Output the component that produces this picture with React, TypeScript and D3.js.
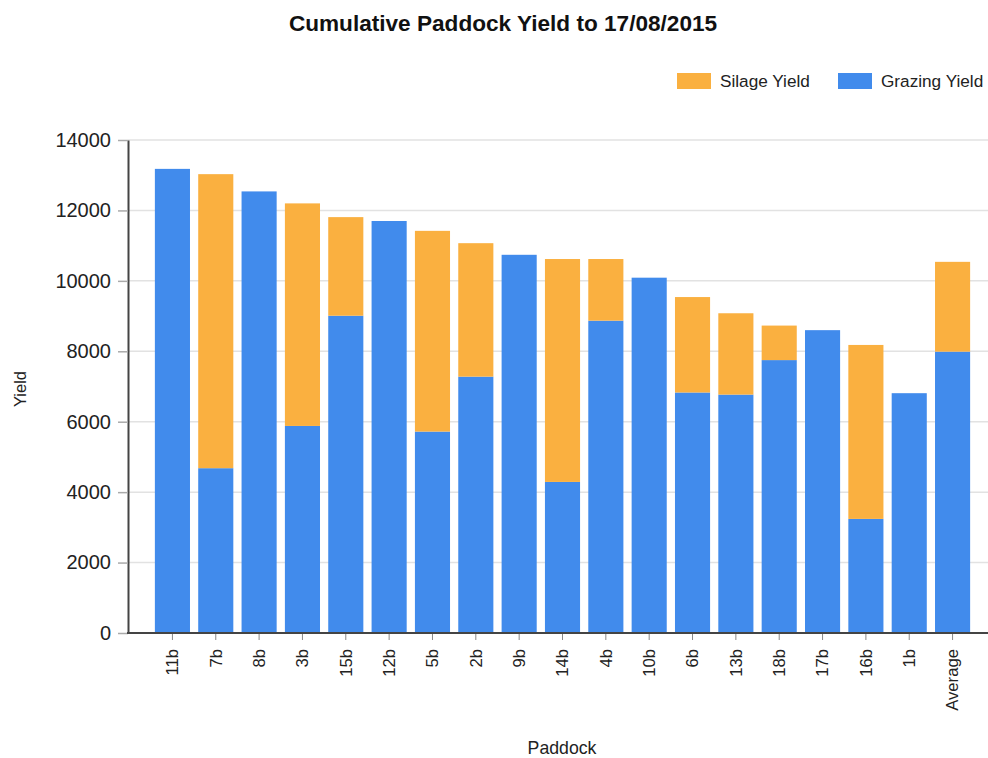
import React, { useRef, useEffect } from 'react';
import * as d3 from 'd3';

// paddocks in chart order
const paddocks = ['11b', '7b', '8b', '3b', '15b', '12b', '5b', '2b', '9b', '14b', '4b', '10b', '6b', '13b', '18b', '17b', '16b', '1b', 'Average'];
const grazingYield = [13180, 4680, 12540, 5880, 9010, 11700, 5720, 7280, 10740, 4290, 8870, 10090, 6830, 6770, 7750, 8600, 3240, 6810, 7990];
const silageYield = [0, 8350, 0, 6320, 2800, 0, 5700, 3790, 0, 6330, 1750, 0, 2710, 2310, 980, 0, 4940, 0, 2550];
const yTicks = [0, 2000, 4000, 6000, 8000, 10000, 12000, 14000];
const seriesNames = ['Silage Yield', 'Grazing Yield'];

const BLUE = '#418bec';
const ORANGE = '#fab040';
const FONT = '"Liberation Sans", Arial, sans-serif';

function App() {
  const canvas = useRef<HTMLDivElement>(null);

  useEffect(() => {
    const width = 988;
    const height = 758;
    const left = 128, right = 988, top = 140, bottom = 633;

    d3.select(canvas.current).select('svg').remove();

    const svg = d3.select(canvas.current)
      .append('svg')
      .attr('width', width)
      .attr('height', height)
      .style('position', 'absolute')
      .style('left', '0px')
      .style('top', '0px')
      .style('font-family', FONT);

    const x = d3.scaleBand()
      .domain(paddocks)
      .range([left, 997])
      .paddingInner(0.19)
      .paddingOuter(0.62);

    const y = d3.scaleLinear()
      .domain([0, 14000])
      .range([bottom, top]);

    // gridlines
    svg.append('g')
      .selectAll('line')
      .data(yTicks.filter(d => d > 0))
      .enter()
      .append('line')
      .attr('x1', left)
      .attr('x2', right)
      .attr('y1', d => y(d))
      .attr('y2', d => y(d))
      .attr('stroke', '#e2e2e2')
      .attr('stroke-width', 1.5);

    // stacked bars
    const rows = paddocks.map((p, i) => ({ paddock: p, grazing: grazingYield[i], silage: silageYield[i] }));
    const stack = d3.stack<any>().keys(['grazing', 'silage'])(rows);
    const colors = { grazing: BLUE, silage: ORANGE } as any;

    svg.append('g')
      .selectAll('g')
      .data(stack)
      .enter()
      .append('g')
      .attr('fill', d => colors[d.key])
      .selectAll('rect')
      .data(d => d)
      .enter()
      .append('rect')
      .attr('x', d => x(d.data.paddock) as number)
      .attr('width', x.bandwidth())
      .attr('y', d => y(d[1]))
      .attr('height', d => y(d[0]) - y(d[1]));

    // y axis
    const yAxis = svg.append('g')
      .attr('transform', `translate(${left},0)`)
      .call(d3.axisLeft(y).tickValues(yTicks).tickFormat(d3.format('d')).tickSizeInner(10).tickSizeOuter(0).tickPadding(7));
    yAxis.select('.domain').attr('stroke', '#444').attr('stroke-width', 2);
    yAxis.selectAll('.tick line').attr('stroke', '#aaa').attr('stroke-width', 1.5);
    yAxis.selectAll('.tick text').attr('fill', '#222').style('font-size', '20px').style('font-family', FONT);

    // x axis
    const xAxis = svg.append('g')
      .attr('transform', `translate(0,${bottom})`)
      .call(d3.axisBottom(x).tickSizeInner(7).tickSizeOuter(0));
    xAxis.select('.domain').remove();
    svg.append('line')
      .attr('x1', left - 1).attr('x2', right)
      .attr('y1', bottom).attr('y2', bottom)
      .attr('stroke', '#444').attr('stroke-width', 2);
    xAxis.selectAll('.tick line').attr('stroke', '#888').attr('stroke-width', 1);
    xAxis.selectAll('.tick text')
      .attr('fill', '#222')
      .style('font-size', '16.7px')
      .style('font-family', FONT)
      .attr('text-anchor', 'end')
      .attr('transform', 'rotate(-90)')
      .attr('x', -16)
      .attr('y', 0)
      .attr('dy', '0.35em');

    // title
    svg.append('text')
      .attr('x', 503)
      .attr('y', 31)
      .attr('text-anchor', 'middle')
      .attr('fill', '#111')
      .style('font-size', '22.6px')
      .style('font-weight', 'bold')
      .text('Cumulative Paddock Yield to 17/08/2015');

    // axis titles
    svg.append('text')
      .attr('transform', 'translate(26,389) rotate(-90)')
      .attr('text-anchor', 'middle')
      .attr('fill', '#222')
      .style('font-size', '16.5px')
      .text('Yield');

    svg.append('text')
      .attr('x', 562)
      .attr('y', 754)
      .attr('text-anchor', 'middle')
      .attr('fill', '#222')
      .style('font-size', '17.7px')
      .text('Paddock');

    // legend
    const legendX = [677, 838];
    const legend = svg.append('g')
      .selectAll('g')
      .data(seriesNames)
      .enter()
      .append('g')
      .attr('transform', (d, i) => `translate(${legendX[i]},73)`);
    legend.append('rect')
      .attr('width', 34)
      .attr('height', 16)
      .attr('fill', (d, i) => (i === 0 ? ORANGE : BLUE));
    legend.append('text')
      .attr('x', 43)
      .attr('y', 8)
      .attr('dy', '0.35em')
      .attr('fill', '#222')
      .style('font-size', '17.2px')
      .text(d => d);
  }, []);

  return (
    <div ref={canvas}></div>
  );
}

export default App;
